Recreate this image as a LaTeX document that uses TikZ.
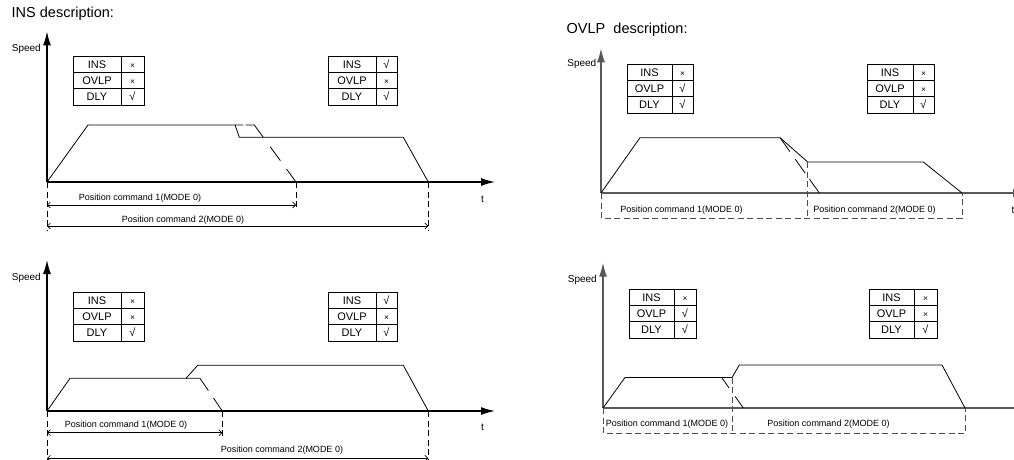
\documentclass[tikz,border=0pt]{standalone}
\usepackage{fontspec}
\setmainfont{Liberation Sans}
\usetikzlibrary{arrows.meta}
\newcommand{\mytable}[8]{%
  \draw[tblline,fill=white] (#2,#5) rectangle (#4,#5+49);
  \draw[tblline] (#3,#5) -- (#3,#5+49) (#2,#5+16.33) -- (#4,#5+16.33) (#2,#5+32.67) -- (#4,#5+32.67);
  \node[cell] (#1ins)  at ({(#2+#3)/2},#5+12.2) {INS};
  \node[cell] (#1ovlp) at ({(#2+#3)/2},#5+28.5) {OVLP};
  \node[cell] (#1dly)  at ({(#2+#3)/2},#5+44.8) {DLY};
  \node[cell] (#1v1) at ({(#3+#4)/2},#5+12.2) {#6};
  \node[cell] (#1v2) at ({(#3+#4)/2},#5+28.5) {#7};
  \node[cell] (#1v3) at ({(#3+#4)/2},#5+44.8) {#8};
}
\newcommand{\no}{{\fontsize{8.5}{8.5}\selectfont ×}}
\newcommand{\yes}{√}
\begin{document}
\begin{tikzpicture}[x=1pt,y=-1pt,
  axisl/.style={line width=1.3pt,draw=black,-{Latex[length=14pt,width=8pt]}},
  axisr/.style={line width=1.3pt,draw=black!65,-{Latex[length=14pt,width=8pt]}},
  prof/.style={line width=0.8pt,line join=miter},
  guide/.style={line width=0.8pt,dash pattern=on 6pt off 3.5pt},
  guider/.style={line width=0.8pt,draw=black!70,dash pattern=on 6pt off 3.5pt},
  dim/.style={line width=0.6pt,{Straight Barb[length=3pt,width=6pt]}-{Straight Barb[length=3pt,width=6pt]}},
  tblline/.style={line width=0.8pt},
  cell/.style={font=\fontsize{11}{11}\selectfont,inner sep=0pt,anchor=base},
  lbl/.style={font=\fontsize{9}{9}\selectfont,inner sep=0pt,anchor=base},
  axlbl/.style={font=\fontsize{10}{10}\selectfont,inner sep=0pt},
  title/.style={font=\fontsize{14.5}{14.5}\selectfont,inner sep=0pt,anchor=base west}
]
\useasboundingbox (0,0) rectangle (1014,460);

% ================= titles =================
\node[title] (t1) at (11.5,17.3) {INS description:};
\node[title] (t2) at (566.5,33.3) {OVLP\ \ description:};

% ================= top-left panel =================
\coordinate (A0) at (47,182);
\coordinate (Ay) at (47,31.5);
\coordinate (Ax) at (495,182);
\draw[axisl] (A0) -- (Ay);
\draw[axisl] (A0) -- (Ax);
\node[axlbl,anchor=base east] (Aspeed) at (41,52) {Speed};
\node[axlbl,anchor=base] (At) at (482.5,202) {t};
\mytable{Aa}{73}{121}{144}{56}{\no}{\no}{\yes}
\mytable{Ab}{328}{376}{397}{56}{\yes}{\no}{\yes}
\draw[prof] (A0) -- (88,125) -- (235,125);
\draw[prof,dash pattern=on 8.3pt off 2.4pt on 23.8pt off 11.7pt on 17.3pt off 10.3pt on 20pt off 10pt]
  (235,125) -- (254.3,125) -- (296,182);
\draw[prof] (235,125) -- (239.3,137.3) -- (403.3,137.3) -- (428.3,182);
\coordinate (A1) at (296,182);
\coordinate (A2) at (428.3,182);
\coordinate (A0b) at (47,230);
\coordinate (A1b) at (296,210);
\coordinate (A2b) at (428.3,230);
\draw[guide] (A0) -- (A0b);
\draw[guide] (A1) -- (A1b);
\draw[guide] (A2) -- (A2b);
\coordinate (Ad1l) at (47,205);
\coordinate (Ad1r) at (296,205);
\coordinate (Ad2l) at (47,226);
\coordinate (Ad2r) at (428.3,226);
\draw[dim] (Ad1l) -- (Ad1r);
\draw[dim] (Ad2l) -- (Ad2r);
\node[lbl] (Al1) at (140,200) {Position command 1(MODE 0)};
\node[lbl] (Al2) at (183,222.7) {Position command 2(MODE 0)};

% ================= bottom-left panel =================
\coordinate (B0) at (47,411);
\coordinate (By) at (47,260);
\coordinate (Bx) at (495,411);
\draw[axisl] (B0) -- (By);
\draw[axisl] (B0) -- (Bx);
\node[axlbl,anchor=base east] (Bspeed) at (41,280) {Speed};
\node[axlbl,anchor=base] (Bt) at (482.5,430.5) {t};
\mytable{Ba}{73}{121}{144}{292}{\no}{\no}{\yes}
\mytable{Bb}{328}{376}{397}{292}{\yes}{\no}{\yes}
\draw[prof] (B0) -- (70,378.3) -- (200,378.3);
\draw[prof,dash pattern=on 14.9pt off 9.1pt on 20pt off 10pt] (200,378.3) -- (222.3,411);
\draw[prof] (186,378.3) -- (197.7,365.3) -- (403.3,365.3) -- (428.3,411);
\coordinate (B1) at (222.3,411);
\coordinate (B2) at (428.3,411);
\coordinate (B0b) at (47,460);
\coordinate (B1b) at (222.3,437);
\coordinate (B2b) at (428.3,460);
\draw[guide] (B0) -- (B0b);
\draw[guide] (B1) -- (B1b);
\draw[guide] (B2) -- (B2b);
\coordinate (Bd1l) at (47,432.7);
\coordinate (Bd1r) at (222.3,432.7);
\coordinate (Bd2l) at (47,458.3);
\coordinate (Bd2r) at (428.3,458.3);
\draw[dim] (Bd1l) -- (Bd1r);
\draw[dim] (Bd2l) -- (Bd2r);
\node[lbl] (Bl1) at (126,427) {Position command 1(MODE 0)};
\node[lbl] (Bl2) at (282,452) {Position command 2(MODE 0)};

% ================= top-right panel =================
\coordinate (C0) at (601,193);
\coordinate (Cy) at (601,48.3);
\coordinate (Cx) at (1027,193);
\draw[axisr] (C0) -- (Cy);
\draw[axisr] (C0) -- (Cx);
\node[axlbl,anchor=base east] (Cspeed) at (596.5,66.5) {Speed};
\node[axlbl,anchor=base west] (Ct) at (1011.5,213) {t};
\mytable{Ca}{627}{672}{693}{64}{\no}{\yes}{\yes}
\mytable{Cb}{867}{913}{934}{64}{\no}{\no}{\yes}
\draw[prof] (C0) -- (640,137.7) -- (780,137.7) -- (807.7,162) -- (923.3,162) -- (962,193);
\draw[prof,dash pattern=on 17pt off 9.5pt on 17pt off 7.5pt on 20pt off 10pt] (780,137.7) -- (819.3,193);
\coordinate (C1) at (807.7,162);
\coordinate (C2) at (962,193);
\coordinate (C0b) at (601,218);
\coordinate (C1b) at (807.7,218);
\coordinate (C2b) at (962,218);
\draw[guider] (C0) -- (C0b) -- (C2b) -- (C2);
\draw[guider] (C1) -- (C1b);
\node[lbl] (Cl1) at (681.5,212.5) {Position command 1(MODE 0)};
\node[lbl] (Cl2) at (874.5,212.5) {Position command 2(MODE 0)};

% ================= bottom-right panel =================
\coordinate (D0) at (603,408);
\coordinate (Dy) at (603,262.7);
\coordinate (Dx) at (1029,408);
\draw[axisr] (D0) -- (Dy);
\draw[axisr] (D0) -- (Dx);
\node[axlbl,anchor=base east] (Dspeed) at (597,282.5) {Speed};
\mytable{Da}{629}{674}{696}{289}{\no}{\yes}{\yes}
\mytable{Db}{869}{914}{937}{289}{\no}{\no}{\yes}
\draw[prof] (D0) -- (625,377.5) -- (732,377.5);
\draw[prof,dash pattern=on 12.6pt off 10.5pt on 20pt off 10pt] (721.7,377.5) -- (743.3,408);
\draw[prof] (732,377.5) -- (739.3,365) -- (942,365) -- (965,408);
\coordinate (D1) at (732,377.5);
\coordinate (D2) at (965,408);
\coordinate (D0b) at (603,433);
\coordinate (D1b) at (732,433);
\coordinate (D2b) at (965,433);
\draw[guider] (D0) -- (D0b) -- (D2b) -- (D2);
\draw[guider] (D1) -- (D1b);
\node[lbl] (Dl1) at (667,426.5) {Position command 1(MODE 0)};
\node[lbl] (Dl2) at (828.5,426.5) {Position command 2(MODE 0)};
\end{tikzpicture}
\end{document}
